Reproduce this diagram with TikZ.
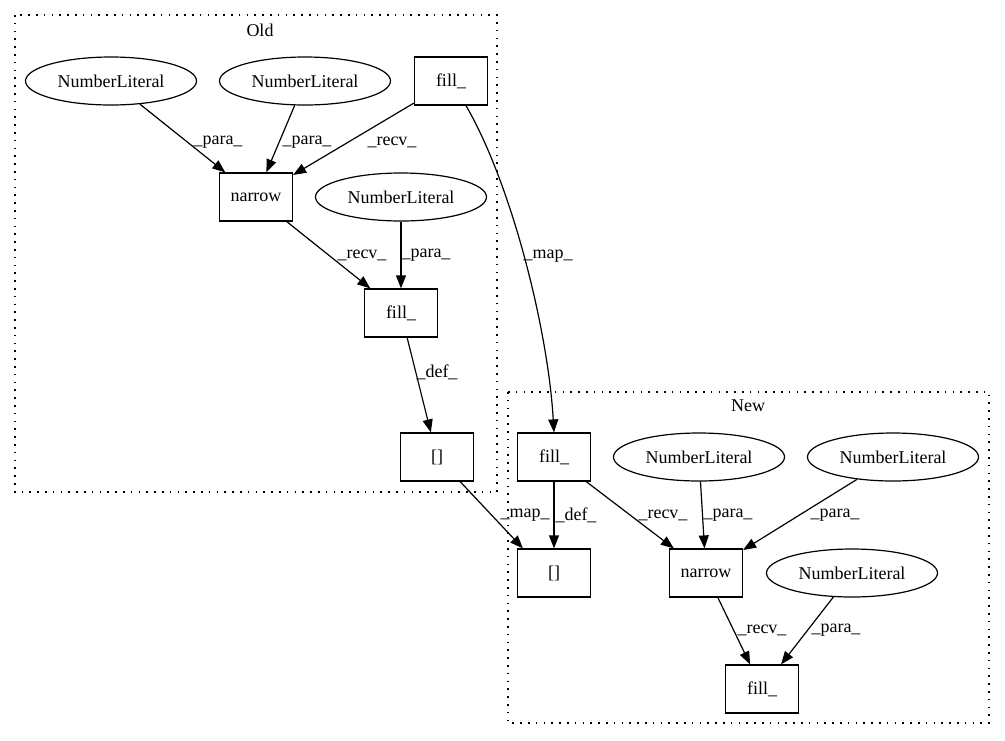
\documentclass[tikz,border=0pt]{standalone}
\usepackage{fontspec}
\setmainfont{Liberation Serif}
\usetikzlibrary{shapes.geometric,arrows.meta}
\begin{document}
\begin{tikzpicture}[x=1pt,y=-1pt,
  font=\fontsize{18}{20}\selectfont,
  box/.style={draw,line width=1.2pt,rectangle,minimum width=73pt,minimum height=48pt,inner sep=0pt},
  lit/.style={draw,line width=1.2pt,ellipse,minimum width=171pt,minimum height=48pt,inner sep=0pt},
  cluster/.style={draw,line width=1.3pt,dash pattern=on 1.6pt off 6.2pt},
  edge/.style={draw,line width=1.2pt,-{Triangle[length=13pt,width=10pt]}},
  lbl/.style={inner sep=0pt}]
\useasboundingbox (0,0) rectangle (1005,740);
% clusters
\draw[cluster] (15,15) rectangle (497,492);
\node (oldlbl) at (260,30) {Old};
\draw[cluster] (508,392) rectangle (989,723);
\node (newlbl) at (748,406) {New};
% Old nodes
\node[lit] (nl1) at (111,81) {NumberLiteral};
\node[lit] (nl2) at (305,81) {NumberLiteral};
\node[box] (fillA) at (451,81) {fill\_};
\node[box] (narrowA) at (256,197) {narrow};
\node[lit] (nl3) at (401,197) {NumberLiteral};
\node[box] (fillB) at (401,313) {fill\_};
\node[box] (idxA) at (437,457) {[]};
% New nodes
\node[box] (fillC) at (554,457) {fill\_};
\node[lit] (nl4) at (699,457) {NumberLiteral};
\node[lit] (nl5) at (893,457) {NumberLiteral};
\node[box] (idxB) at (554,573) {[]};
\node[box] (narrowB) at (706,573) {narrow};
\node[lit] (nl6) at (852,573) {NumberLiteral};
\node[box] (fillD) at (762,689) {fill\_};
% edges
\draw[edge] (nl1) -- (narrowA);
\node[lbl] (l1) at (218,142) {\_para\_};
\draw[edge] (nl2) -- (narrowA);
\node[lbl] (l2) at (307,142) {\_para\_};
\draw[edge] (fillA) -- (narrowA);
\node[lbl] (l3) at (392,142) {\_recv\_};
\draw[edge] (narrowA) -- (fillB);
\node[lbl] (l4) at (362,255) {\_recv\_};
\draw[edge] (nl3) -- (fillB);
\node[lbl] (l5) at (426,255) {\_para\_};
\draw[edge] (fillB) -- (idxA);
\node[lbl] (l6) at (437,372) {\_def\_};
\draw[edge] (fillA.south) ++(15,0) .. controls (512,185) and (548,330) .. (fillC.north);
\node[lbl] (l7) at (548,256) {\_map\_};
\draw[edge] (idxA) -- ([xshift=6pt]idxB.north west);
\node[lbl] (l8) at (525,515) {\_map\_};
\draw[edge] (fillC) -- (idxB);
\node[lbl] (l9) at (576,515) {\_def\_};
\draw[edge] (fillC) -- (narrowB);
\node[lbl] (l10) at (663,515) {\_recv\_};
\draw[edge] (nl4) -- (narrowB);
\node[lbl] (l11) at (728,515) {\_para\_};
\draw[edge] (nl5) -- (narrowB);
\node[lbl] (l12) at (835,515) {\_para\_};
\draw[edge] (narrowB) -- (fillD);
\node[lbl] (l13) at (762,630) {\_recv\_};
\draw[edge] (nl6) -- (fillD);
\node[lbl] (l14) at (836,630) {\_para\_};
\end{tikzpicture}
\end{document}
